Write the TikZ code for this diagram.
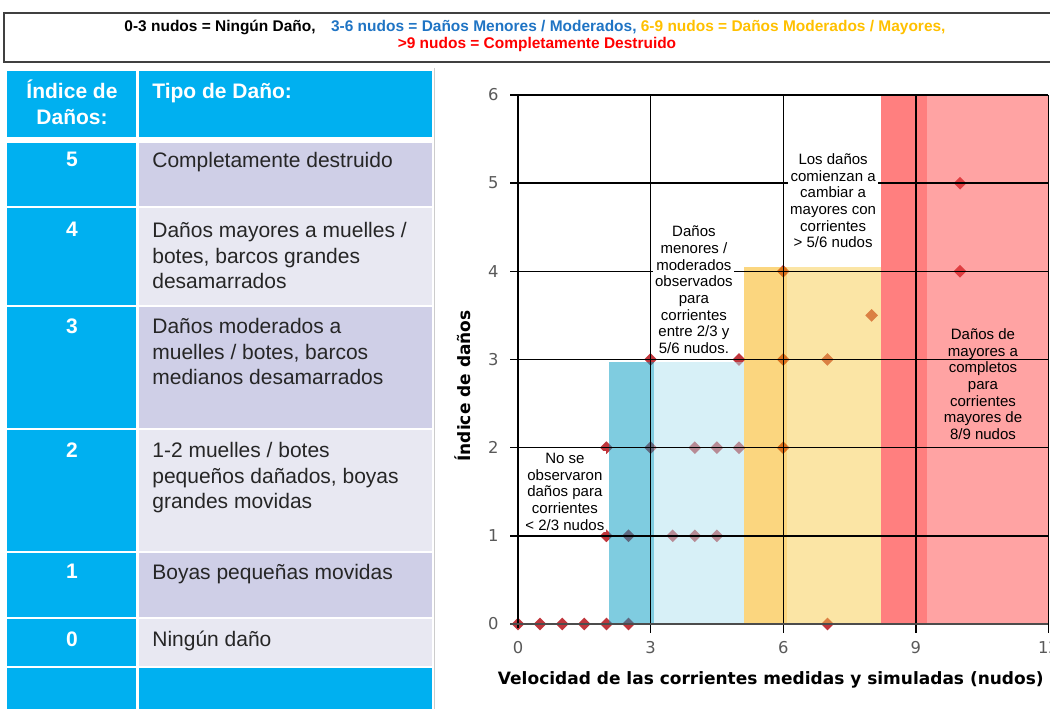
\documentclass[tikz,border=0pt]{standalone}
\usepackage{fontspec}
\usepackage{tikz}
\setmainfont{Liberation Sans}
\newfontfamily\plotfont{DejaVu Sans}
\usetikzlibrary{shapes.geometric}

\definecolor{cellblue}{HTML}{00B0F0}
\definecolor{cellpurple}{HTML}{CFCFE7}
\definecolor{cellgrey}{HTML}{E8E8F2}
\definecolor{kblue}{HTML}{1F74C4}
\definecolor{kgold}{HTML}{FFC000}
\definecolor{kred}{HTML}{FF0000}
\definecolor{bandblue}{RGB}{0,153,193}
\definecolor{bandlblue}{RGB}{175,225,239}
\definecolor{bandyel}{RGB}{247,173,0}
\definecolor{bandlyel}{RGB}{247,203,75}
\definecolor{bandred}{RGB}{255,0,0}
\definecolor{bandpink}{RGB}{255,71,71}
\definecolor{dotred}{HTML}{C0363C}

\newcommand{\tablefont}{\fontsize{11.95}{14.5}\selectfont}
\newcommand{\bannerfont}{\fontsize{8.8}{10.2}\selectfont}
\newcommand{\notefont}{\fontsize{8.54}{9.5}\selectfont}

\begin{document}
\begin{tikzpicture}[
    cellnum/.style={anchor=north, inner sep=0pt, text=white, font=\tablefont\bfseries},
    celltext/.style={anchor=north west, inner sep=0pt, align=left, font=\tablefont, text=black!85},
    note/.style={fill=white, inner sep=1pt, align=center, font=\notefont},
    datum/.style={diamond, aspect=1, fill=dotred, inner sep=0pt, minimum size=0.26cm},
    band/.style={fill opacity=0.5},
    gridline/.style={black, line width=0.8pt},
    ticklbl/.style={font=\plotfont\fontsize{9.3}{11}\selectfont, text=black!65},
    axistitle/.style={font=\plotfont\bfseries\fontsize{9.67}{11}\selectfont}
]
    \useasboundingbox (0,0) rectangle (21,-14.18);
    \clip (0,0) rectangle (21,-14.18);

    % key on top
    \draw[black!75, line width=0.9pt] (0.08,-0.26) rectangle (21.1,-1.24);
    \node[font=\bannerfont\bfseries] (key1) at (10.7,-0.54) {0-3 nudos = Ningún Daño,\quad{\color{kblue}3-6 nudos = Daños Menores / Moderados,} {\color{kgold}6-9 nudos = Daños Moderados / Mayores,}};
    \node[font=\bannerfont\bfseries, text=kred] (key2) at (10.74,-0.9) {>9 nudos = Completamente Destruido};

    % table
    \fill[cellblue] (0.14,-1.42) rectangle (2.72,-2.74);
    \fill[cellblue] (2.78,-1.42) rectangle (8.64,-2.74);
    \foreach \ytop/\ybot/\shade in {-2.86/-4.12/cellpurple, -4.16/-6.10/cellgrey, -6.14/-8.56/cellpurple,
                                    -8.60/-11.02/cellgrey, -11.06/-12.34/cellpurple, -12.38/-13.32/cellgrey} {
        \fill[cellblue] (0.14,\ytop) rectangle (2.72,\ybot);
        \fill[\shade] (2.78,\ytop) rectangle (8.64,\ybot);
    }
    \fill[cellblue] (0.14,-13.36) rectangle (2.72,-14.3);
    \fill[cellblue] (2.78,-13.36) rectangle (8.64,-14.3);
    \draw[black!20] (8.68,-1.36) -- (8.68,-14.18);

    \node[cellnum, align=center] (hdrA) at (1.44,-1.6) {Índice de\\Daños:};
    \node[cellnum, anchor=north west] (hdrB) at (3.04,-1.66) {Tipo de Daño:};

    \node[cellnum] (n5) at (1.44,-3.04) {5};
    \node[celltext] (t5) at (3.04,-3.04) {Completamente destruido};
    \node[cellnum] (n4) at (1.44,-4.44) {4};
    \node[celltext] (t4) at (3.04,-4.44) {Daños mayores a muelles /\\botes, barcos grandes\\desamarrados};
    \node[cellnum] (n3) at (1.44,-6.36) {3};
    \node[celltext] (t3) at (3.04,-6.36) {Daños moderados a\\muelles / botes, barcos\\medianos desamarrados};
    \node[cellnum] (n2) at (1.44,-8.84) {2};
    \node[celltext] (t2) at (3.04,-8.84) {1-2 muelles / botes\\pequeños dañados, boyas\\grandes movidas};
    \node[cellnum] (n1) at (1.44,-11.28) {1};
    \node[celltext] (t1) at (3.04,-11.28) {Boyas pequeñas movidas};
    \node[cellnum] (n0) at (1.44,-12.62) {0};
    \node[celltext] (t0) at (3.04,-12.62) {Ningún daño};

    % chart, in knots and damage index
    \begin{scope}[shift={(10.36,-12.48)}, x=0.884cm, y=1.7634cm]
        % points first, the bands lie over them
        \foreach \px/\py [count=\k] in {0/0, 0.5/0, 1/0, 1.5/0, 2/0, 2.5/0, 7/0,
                                        2/1, 2.5/1, 3.5/1, 4/1, 4.5/1,
                                        2/2, 3/2, 4/2, 4.5/2, 5/2, 6/2,
                                        3/3, 5/3, 6/3, 7/3, 8/3.5, 6/4, 10/4, 10/5}
            \node[datum] (d\k) at (\px,\py) {};

        \fill[band, bandblue] (2.06,0) rectangle (3.08,2.97);
        \fill[band, bandlblue] (3.08,0) rectangle (5.11,2.97);
        \fill[band, bandyel] (5.11,0) rectangle (6.09,4.05);
        \fill[band, bandlyel] (6.09,0) rectangle (8.21,4.05);
        \fill[band, bandred] (8.21,0) rectangle (9.25,6);
        \fill[band, bandpink] (9.25,0) rectangle (12,6);

        \foreach \yy in {1,...,6}
            \draw[gridline] (-0.18,\yy) -- (12,\yy);
        \foreach \xx in {3,6,9,12}
            \draw[gridline] (\xx,-0.1) -- (\xx,6);
        \draw[gridline] (0,-0.05) -- (0,6);
        \draw[gridline, black!70] (-0.18,0) -- (12,0);

        \foreach \yy in {0,...,6}
            \node[ticklbl, anchor=east] (ty\yy) at (-0.3,\yy) {\yy};
        \foreach \xx in {0,3,6,9,12}
            \node[ticklbl] (tx\xx) at (\xx,-0.27) {\xx};

        \node[axistitle] (xtitle) at (5.72,-0.635) {Velocidad de las corrientes medidas y simuladas (nudos)};
        \node[axistitle, rotate=90] (ytitle) at (-1.24,2.70) {Índice de daños};

        \node[note] (none) at (1.06,1.5) {No se\\observaron\\daños para\\corrientes\\< 2/3 nudos};
        \node[note] (minor) at (3.98,3.79) {Daños\\menores /\\moderados\\observados\\para\\corrientes\\entre 2/3 y\\5/6 nudos.};
        \node[note] (major) at (7.13,4.8) {Los daños\\comienzan a\\cambiar a\\mayores con\\corrientes\\> 5/6 nudos};
        \node[note, fill=none] (total) at (10.52,2.72) {Daños de\\mayores a\\completos\\para\\corrientes\\mayores de\\8/9 nudos};
    \end{scope}
\end{tikzpicture}
\end{document}
